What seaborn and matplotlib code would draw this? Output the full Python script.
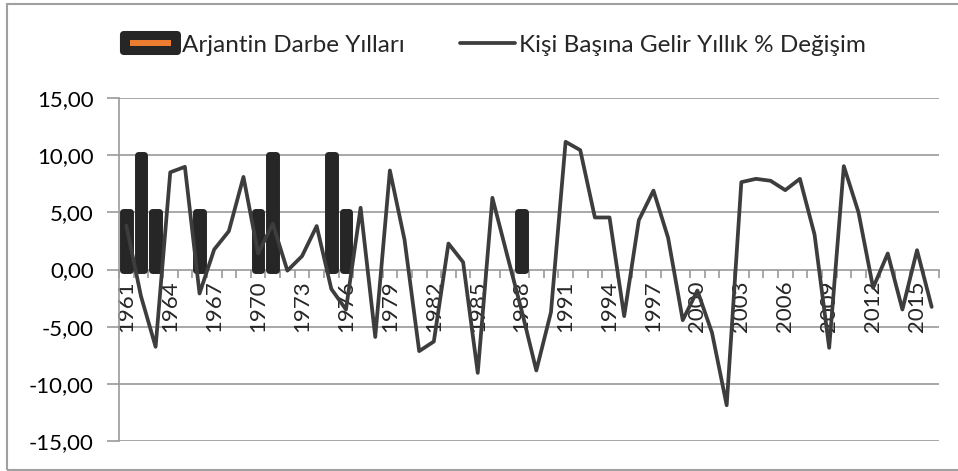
import numpy as np
import pandas as pd
import matplotlib
matplotlib.use("Agg")
import matplotlib.pyplot as plt
import matplotlib.patches as mpatches
from matplotlib.lines import Line2D
from matplotlib.legend_handler import HandlerBase
from matplotlib.ticker import FixedLocator, FuncFormatter
import seaborn as sns

years = list(range(1961, 2017))
growth = [3.85, -2.33, -6.76, 8.5, 8.98, -2.1, 1.75, 3.35, 8.1, 1.4,
          4.0, -0.1, 1.17, 3.8, -1.7, -3.5, 5.4, -5.9, 8.66, 2.6,
          -7.14, -6.3, 2.27, 0.64, -9.04, 6.27, 1.3, -3.6, -8.83, -3.73,
          11.17, 10.44, 4.55, 4.55, -4.08, 4.31, 6.9, 2.77, -4.43, -1.84,
          -5.54, -11.87, 7.64, 7.93, 7.76, 6.94, 7.93, 3.06, -6.85, 9.04,
          5.01, -1.6, 1.4, -3.5, 1.69, -3.27]
coup_years = [1961, 1962, 1963, 1966, 1970, 1971, 1975, 1976, 1988]
coup_values = [5, 10, 5, 5, 5, 10, 10, 5, 5]
yticks = [15, 10, 5, 0, -5, -10, -15]
bar_label = "Arjantin Darbe Yılları"
line_label = "Kişi Başına Gelir Yıllık % Değişim"

coup_map = dict(zip(coup_years, coup_values))
df = pd.DataFrame({
    "year": [str(y) for y in years],
    "pos": np.arange(len(years)),
    "growth": growth,
    "coup": [coup_map.get(y, np.nan) for y in years],
})

sns.set_theme(style="white")
plt.rcParams["font.family"] = ["Lato", "DejaVu Sans"]

W, H = 958, 471
fig = plt.figure(figsize=(W / 100, H / 100), dpi=100)
ax = fig.add_axes([119 / W, 1 - 441 / H, 820 / W, 343 / H])

dark = "#262626"
linec = "#3d3d3d"
gridc = "#9a9a9a"
orange = "#ED7D31"

sns.barplot(data=df, x="year", y="coup", order=df["year"].tolist(), color=dark,
            width=0.45, ax=ax, saturation=1, zorder=2)
for p in ax.patches:
    p.set_edgecolor(dark)
    p.set_facecolor(dark)
    p.set_linewidth(5.0)
    p.set_joinstyle("round")

sns.lineplot(data=df, x="pos", y="growth", color=linec, linewidth=2.7, ax=ax,
             zorder=3, sort=False)

ax.set_xlim(-0.5, len(years) - 0.5)
ax.set_ylim(-15, 15)
ax.set_xlabel("")
ax.set_ylabel("")

ax.yaxis.set_major_locator(FixedLocator(yticks))
ax.yaxis.set_major_formatter(FuncFormatter(lambda v, p: f"{v:.2f}".replace(".", ",")))
for v in yticks:
    if v != 0:
        ax.axhline(v, color=gridc, lw=1.2, zorder=0)
ax.tick_params(axis="y", which="major", length=9, width=1.2, color=gridc,
               labelsize=16, pad=9, left=True, labelcolor="black")

for s in ["top", "right"]:
    ax.spines[s].set_visible(False)
ax.spines["left"].set_color(gridc)
ax.spines["left"].set_linewidth(1.2)
ax.spines["bottom"].set_position(("data", 0))
ax.spines["bottom"].set_color(gridc)
ax.spines["bottom"].set_linewidth(1.2)
ax.spines["bottom"].set_zorder(1)

major_pos = list(range(0, len(years), 3))
ax.xaxis.set_major_locator(FixedLocator(major_pos))
ax.set_xticklabels([str(years[i]) for i in major_pos], rotation=90,
                   ha="center", va="top", fontsize=16)
ax.xaxis.set_minor_locator(FixedLocator(np.arange(-0.5, len(years), 1.0)))
ax.tick_params(axis="x", which="major", length=0, pad=8, bottom=True)
ax.tick_params(axis="x", which="minor", length=6, width=1.2, color=gridc,
               direction="out", bottom=True)


class CoupHandler(HandlerBase):
    def create_artists(self, legend, orig_handle, xdescent, ydescent, width,
                       height, fontsize, trans):
        ext = 2.2
        bh = 17.3
        cy = -ydescent + height / 2
        box = mpatches.FancyBboxPatch(
            (-xdescent - ext, cy - bh / 2), width + 2 * ext, bh,
            boxstyle="round,pad=0,rounding_size=3",
            facecolor=dark, edgecolor="none", transform=trans)
        stripe = Line2D([-xdescent + 0.12 * width, -xdescent + 0.88 * width],
                        [cy, cy], color=orange, lw=4.3, solid_capstyle="butt",
                        transform=trans)
        return [box, stripe]


coup_handle = mpatches.Patch(color=dark)
line_handle = Line2D([], [], color=linec, lw=2.7)
fig.legend(handles=[coup_handle, line_handle],
           labels=[bar_label, line_label],
           handler_map={mpatches.Patch: CoupHandler()},
           loc="center left", bbox_to_anchor=(123 / W, 1 - 45 / H), ncol=2,
           frameon=False, fontsize=17.5, handlelength=2.26, handleheight=0.7,
           handletextpad=0.17, columnspacing=2.26, borderpad=0, borderaxespad=0)

border = mpatches.Rectangle((7 / W, 1 - 470 / H), 1.0, 466 / H,
                            transform=fig.transFigure, fill=False,
                            edgecolor="#a0a0a0", lw=1.5)
fig.patches.append(border)

fig.savefig("out.png", dpi=100)
